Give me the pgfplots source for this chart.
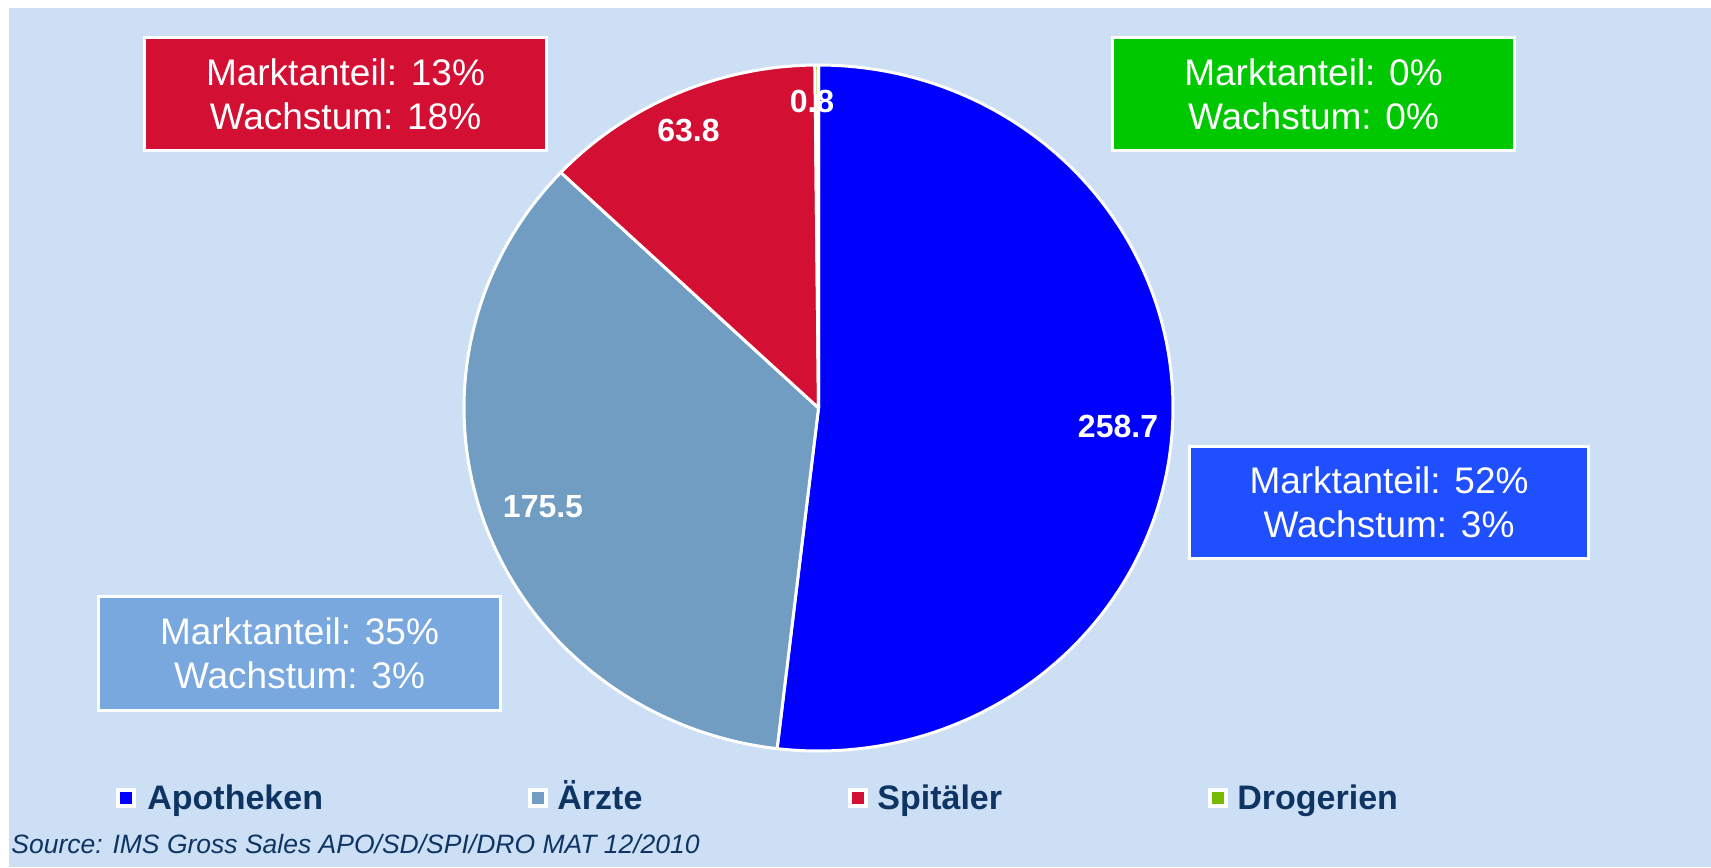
\documentclass[border=0pt]{standalone}
\usepackage{pgfplots}
\pgfplotsset{compat=1.18}
\usepackage{fontspec}
\setmainfont{Liberation Sans}
\definecolor{bg}{RGB}{204,223,244}
\definecolor{apo}{RGB}{0,0,255}
\definecolor{arz}{RGB}{114,157,195}
\definecolor{spi}{RGB}{211,16,52}
\definecolor{dro}{RGB}{119,184,0}
\definecolor{boxred}{RGB}{211,16,52}
\definecolor{boxgreen}{RGB}{0,200,0}
\definecolor{boxblue}{RGB}{31,79,255}
\definecolor{boxarz}{RGB}{121,168,223}
\definecolor{navy}{RGB}{14,52,100}
% data (sales values)
\def\vA{258.7}
\def\vB{175.5}
\def\vC{63.8}
\def\vD{0.8}
\pgfmathsetmacro\tot{\vA+\vB+\vC+\vD}
\pgfmathsetmacro\angA{90}
\pgfmathsetmacro\angB{\angA-360*(\vA/\tot)}
\pgfmathsetmacro\angC{\angB-360*(\vB/\tot)}
\pgfmathsetmacro\angD{\angC-360*(\vC/\tot)}
\pgfmathsetmacro\angE{\angD-360*(\vD/\tot)}
\def\cx{818.5}
\def\cy{408}
\def\rx{354.5}
\def\ry{343}
\begin{document}
\begin{tikzpicture}
\begin{axis}[width=855.5pt,height=433.5pt,scale only axis,
  xmin=0,xmax=1711,ymin=0,ymax=867,y dir=reverse,hide axis,clip=false]
\fill[white] (0,0) rectangle (1711,867);
\fill[bg] (9,8) rectangle (1711,867);
% pie slices
\addplot[fill=apo,draw=white,line width=1.5pt,line join=round,domain=\angB:\angA,samples=160,variable=\t]
  ({\cx+\rx*cos(\t)},{\cy-\ry*sin(\t)}) -- (\cx,\cy) -- cycle;
\addplot[fill=arz,draw=white,line width=1.5pt,line join=round,domain=\angC:\angB,samples=120,variable=\t]
  ({\cx+\rx*cos(\t)},{\cy-\ry*sin(\t)}) -- (\cx,\cy) -- cycle;
\addplot[fill=spi,draw=white,line width=1.5pt,line join=round,domain=\angD:\angC,samples=60,variable=\t]
  ({\cx+\rx*cos(\t)},{\cy-\ry*sin(\t)}) -- (\cx,\cy) -- cycle;
\addplot[fill=dro,draw=white,line width=1.5pt,line join=round,domain=\angE:\angD,samples=4,variable=\t]
  ({\cx+\rx*cos(\t)},{\cy-\ry*sin(\t)}) -- (\cx,\cy) -- cycle;
% data labels
\begin{scope}[every node/.style={text=white,font=\fontsize{16}{19}\selectfont\bfseries,inner sep=0pt}]
\node at (1118,426) {\vA};
\node at (543,507) {\vB};
\node at (688.5,131) {\vC};
\node at (812,101.5) {\vD};
\end{scope}
% annotation boxes
\begin{scope}[every node/.style={text=white,align=center,font=\fontsize{18.5}{22}\selectfont,inner sep=0pt}]
\draw[white,line width=1.5pt,fill=boxred] (144.5,37.5) rectangle (546.5,150.5);
\node at (345.5,94) {Marktanteil: 13\%\\Wachstum: 18\%};
\draw[white,line width=1.5pt,fill=boxgreen] (1112.5,37.5) rectangle (1514.5,150.5);
\node at (1313.5,94) {Marktanteil: 0\%\\Wachstum: 0\%};
\draw[white,line width=1.5pt,fill=boxblue] (1189.5,446.5) rectangle (1588.5,558.5);
\node at (1389,502.5) {Marktanteil: 52\%\\Wachstum: 3\%};
\draw[white,line width=1.5pt,fill=boxarz] (98.5,596.5) rectangle (500.5,710.5);
\node at (299.5,653.5) {Marktanteil: 35\%\\Wachstum: 3\%};
\end{scope}
% legend
\begin{scope}[every node/.style={text=navy,font=\fontsize{17}{20}\selectfont\bfseries,inner sep=0pt,anchor=base west}]
\draw[white,line width=2pt,fill=apo] (118,789.5) rectangle (134,805.5);
\node at (147,809) {Apotheken};
\draw[white,line width=2pt,fill=arz] (529.5,789.5) rectangle (545.5,805.5);
\node at (557,809) {Ärzte};
\draw[white,line width=2pt,fill=spi] (849.5,789.5) rectangle (865.5,805.5);
\node at (877,809) {Spitäler};
\draw[white,line width=2pt,fill=dro] (1210,789.5) rectangle (1226,805.5);
\node at (1237,809) {Drogerien};
\end{scope}
\node[text=navy,font=\fontsize{13.25}{15}\selectfont\itshape,inner sep=0pt,anchor=base west] at (11,853) {Source: IMS Gross Sales APO/SD/SPI/DRO MAT 12/2010};
\end{axis}
\end{tikzpicture}
\end{document}
